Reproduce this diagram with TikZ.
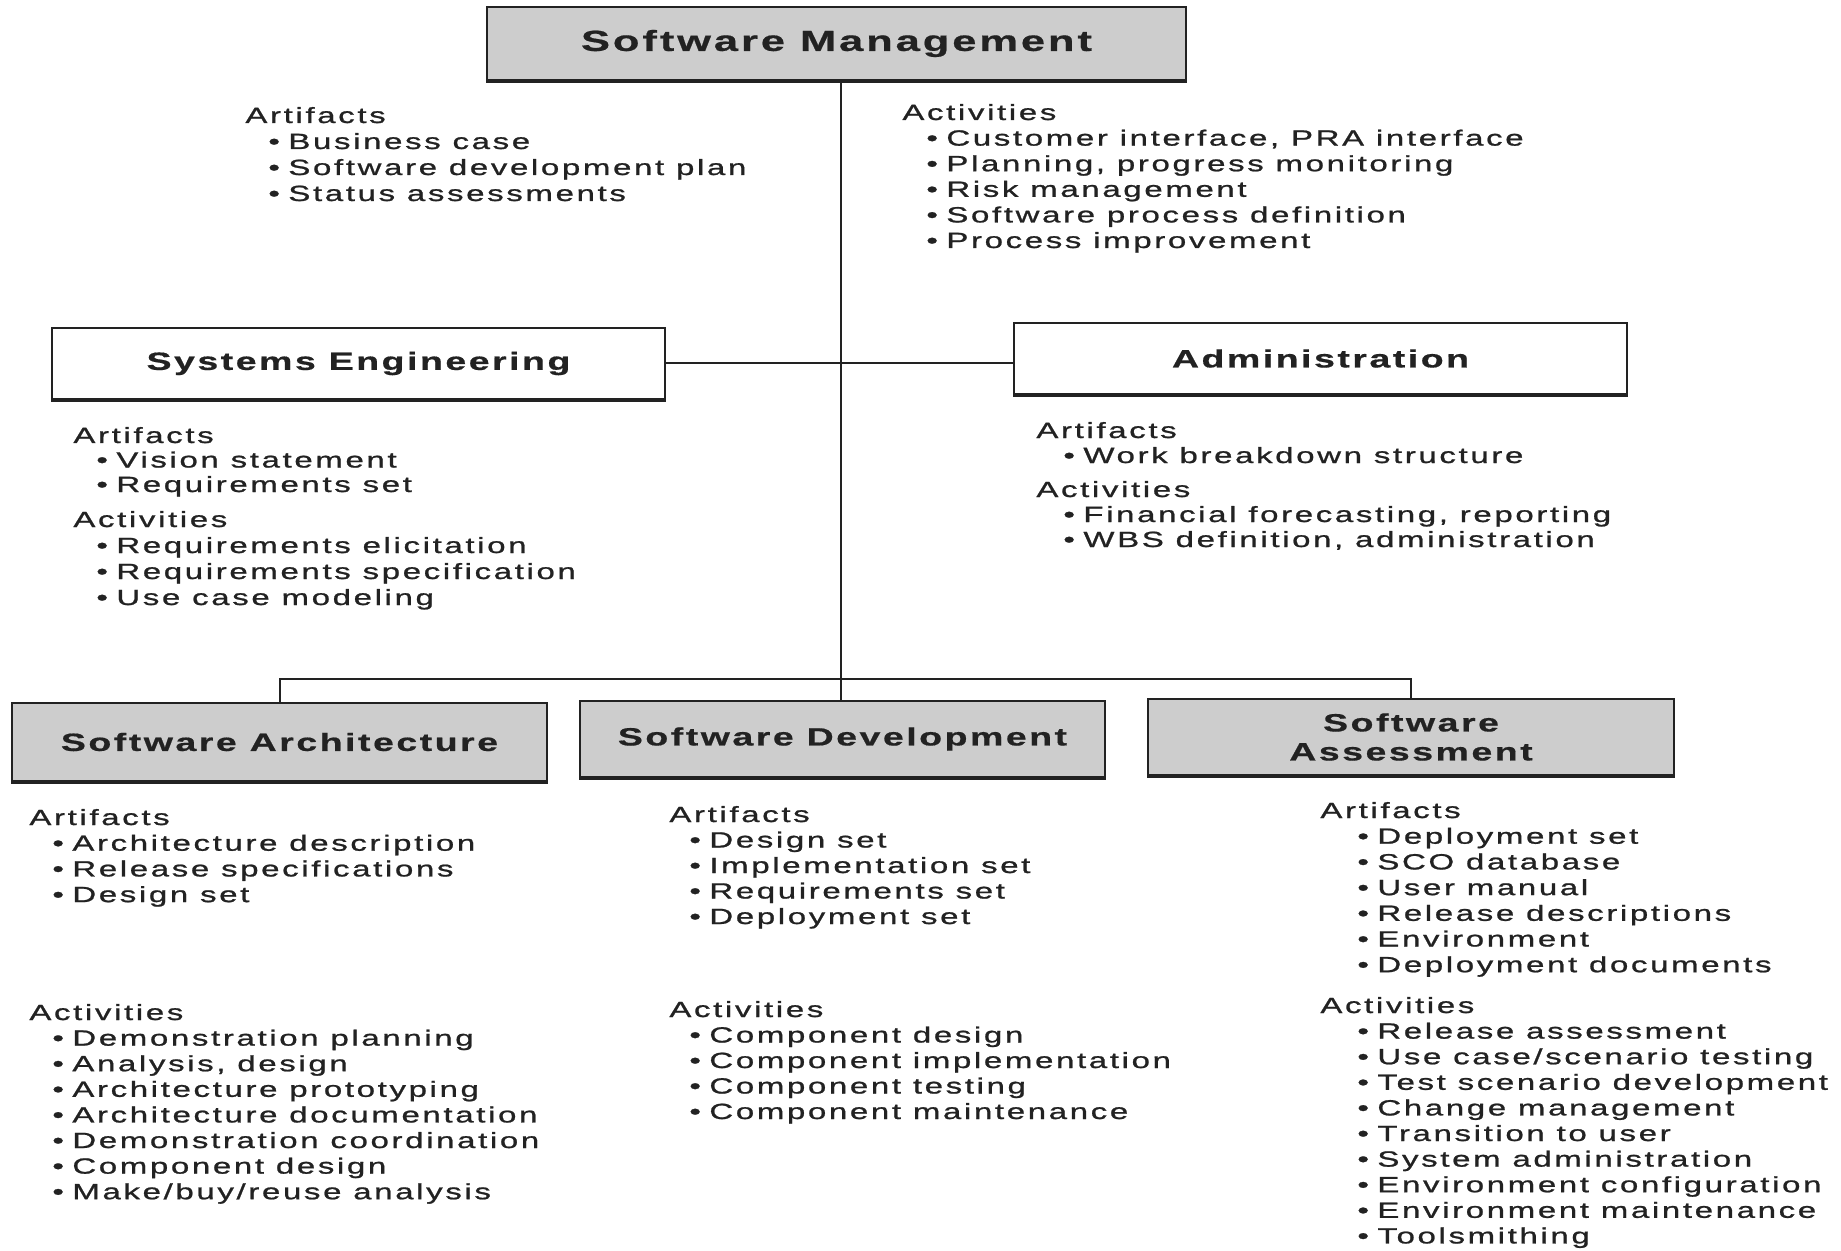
\documentclass[tikz,border=0pt]{standalone}
\usepackage{fontspec}
\setmainfont{Liberation Sans}
\newfontfamily\listfont{Liberation Sans}[FakeStretch=1.5,LetterSpace=12,FakeBold=1.0]
\newfontfamily\ttlfont{Liberation Sans}[FakeStretch=1.5,LetterSpace=10,FakeBold=0.6]
\definecolor{boxgray}{HTML}{CDCDCD}
\definecolor{ink}{HTML}{222222}
\tikzset{
  graybox/.style={draw=ink, line width=1pt, fill=boxgray, inner sep=0pt,
    font=\ttlfont\bfseries\fontsize{12.5}{14.5}\selectfont, text=ink, align=center},
  whitebox/.style={graybox, fill=white},
  head/.style={anchor=base west, inner sep=0pt, font=\listfont\fontsize{11}{13}\selectfont, text=ink},
  entry/.style={head},
  conn/.style={draw=ink, line width=1pt},
  shadowln/.style={draw=ink, line width=1.6pt},
}
\newcommand\mkblock[7]{%
  \node[head] (#1h) at (#2,#4) {#6};
  \foreach \itm [count=\i] in {#7} {
    \node[entry] (#1\i) at (#3,{#4+#5*\i}) {\makebox[10pt][l]{\textbullet}\itm};
  }
}
\begin{document}
\begin{tikzpicture}[x=0.5pt,y=-0.5pt]
\fill[white] (0,0) rectangle (1841,1251);
\useasboundingbox (0,0) rectangle (1841,1251);

% boxes
\node[graybox, minimum width=349.5pt, minimum height=36.5pt,
      font=\ttlfont\bfseries\fontsize{14.5}{16}\selectfont] (SM) at (836.5,43.5) {Software Management};
\node[whitebox, minimum width=306.5pt, minimum height=35.5pt] (SE) at (358.5,363.5) {Systems Engineering};
\node[whitebox, minimum width=306.5pt, minimum height=35.5pt] (AD) at (1320.5,358.5) {Administration};
\node[graybox, minimum width=267.5pt, minimum height=39pt] (SA) at (279.5,742) {Software Architecture};
\node[graybox, minimum width=262.5pt, minimum height=38pt] (SD) at (842.5,739) {Software Development};
\node[graybox, minimum width=263pt, minimum height=38pt] (SAS) at (1411,737) {Software\\Assessment};

\foreach \b in {SM,SE,AD,SA,SD,SAS} {
  \draw[shadowln] (\b.south west) -- (\b.south east);
}

% connectors
\coordinate (bar) at (841,679);
\draw[conn] (SM.south -| bar) -- (bar);
\draw[conn] (SE.east) -- (SE.east -| AD.west);
\draw[conn] (SA.north) -- (SA.north |- bar) -- (SAS.north |- bar) -- (SAS.north);
\draw[conn] (bar) -- (bar |- SD.north);

% text blocks
\mkblock{sma}{245}{268}{123}{26}{Artifacts}{Business case, Software development plan, Status assessments}
\mkblock{smb}{902}{926}{120}{25.6}{Activities}{{Customer interface, PRA interface}, {Planning, progress monitoring}, Risk management, Software process definition, Process improvement}
\mkblock{sea}{73}{96}{443}{24.5}{Artifacts}{Vision statement, Requirements set}
\mkblock{seb}{73}{96}{527}{26}{Activities}{Requirements elicitation, Requirements specification, Use case modeling}
\mkblock{ada}{1036}{1063}{438}{25}{Artifacts}{Work breakdown structure}
\mkblock{adb}{1036}{1063}{497}{25}{Activities}{{Financial forecasting, reporting}, {WBS definition, administration}}
\mkblock{saa}{29}{52}{825}{25.7}{Artifacts}{Architecture description, Release specifications, Design set}
\mkblock{sab}{29}{52}{1020}{25.6}{Activities}{Demonstration planning, {Analysis, design}, Architecture prototyping, Architecture documentation, Demonstration coordination, Component design, Make/buy/reuse analysis}
\mkblock{sda}{669}{689}{822}{25.5}{Artifacts}{Design set, Implementation set, Requirements set, Deployment set}
\mkblock{sdb}{669}{689}{1017}{25.5}{Activities}{Component design, Component implementation, Component testing, Component maintenance}
\mkblock{ssa}{1320}{1357}{818}{25.7}{Artifacts}{Deployment set, SCO database, User manual, Release descriptions, Environment, Deployment documents}
\mkblock{ssb}{1320}{1357}{1013}{25.6}{Activities}{Release assessment, Use case/scenario testing, Test scenario development, Change management, Transition to user, System administration, Environment configuration, Environment maintenance, Toolsmithing}
\end{tikzpicture}
\end{document}
